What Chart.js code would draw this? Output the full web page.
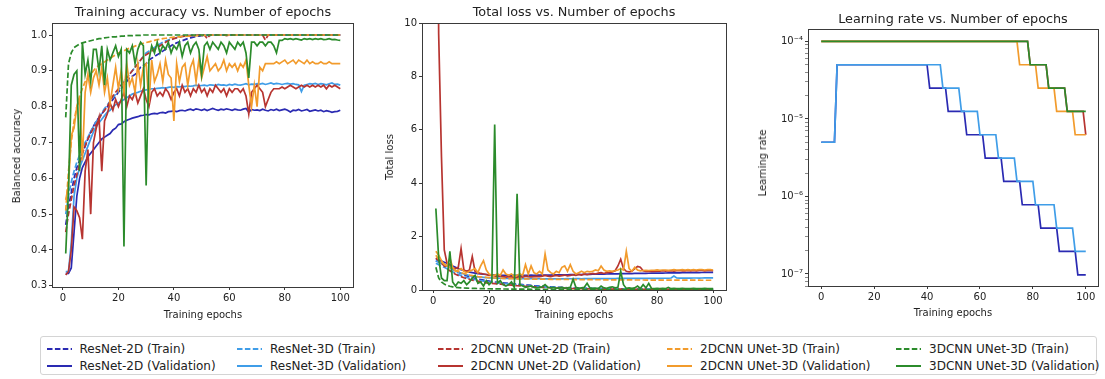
<!DOCTYPE html>
<html><head><meta charset="utf-8">
<script src="https://cdn.jsdelivr.net/npm/chart.js@4.4.1/dist/chart.umd.min.js"></script>
<style>
html,body{margin:0;padding:0;background:#fff;}
body{width:1105px;height:379px;position:relative;overflow:hidden;font-family:"DejaVu Sans",sans-serif;color:#222;}
canvas{position:absolute;top:0;}
.t{position:absolute;white-space:nowrap;transform:translate(-50%,-50%);line-height:1;}
.r{transform:translate(-50%,-50%) rotate(-90deg);}
.title{font-size:12.8px;}
.lab{font-size:10px;}
#legend{position:absolute;left:40px;top:336px;width:1057px;height:39px;border:1px solid #d4d4d4;border-radius:3px;box-sizing:border-box;}
.li{position:absolute;font-size:12px;white-space:nowrap;line-height:1;}
.li svg{position:absolute;top:-5px;}
.li span{position:absolute;left:33px;top:-6px;}
</style></head><body>
<canvas id="c1" width="370" height="330" style="left:0px"></canvas>
<canvas id="c2" width="365" height="330" style="left:370px"></canvas>
<canvas id="c3" width="365" height="330" style="left:740px"></canvas>
<div class="t title" style="left:203px;top:12px">Training accuracy vs. Number of epochs</div>
<div class="t title" style="left:574px;top:12px">Total loss vs. Number of epochs</div>
<div class="t title" style="left:953px;top:19px">Learning rate vs. Number of epochs</div>
<div class="t lab" style="left:203px;top:315px">Training epochs</div>
<div class="t lab" style="left:574px;top:315px">Training epochs</div>
<div class="t lab" style="left:953px;top:313px">Training epochs</div>
<div class="t lab r" style="left:17px;top:156px">Balanced accuracy</div>
<div class="t lab r" style="left:390px;top:157px">Total loss</div>
<div class="t lab r" style="left:763px;top:163px">Learning rate</div>
<div id="legend"></div>
<script>
// ---------- categories / names ----------
const epochs = Array.from({length: 100}, (_, i) => i + 1);
const modelNames = ["ResNet-2D", "ResNet-3D", "2DCNN UNet-2D", "2DCNN UNet-3D", "3DCNN UNet-3D"];
const modelColors = ["#2a2ab2", "#3f9de8", "#b73430", "#f29b2c", "#2b8b2b"];
const xTickValues = [0, 20, 40, 60, 80, 100];
const accTickValues = [0.3, 0.4, 0.5, 0.6, 0.7, 0.8, 0.9, 1.0];
const lossTickValues = [0, 2, 4, 6, 8, 10];
const lrMajorTicks = [1e-7, 1e-6, 1e-5, 1e-4];
const lrMajorLabels = ["10\u207B\u2077", "10\u207B\u2076", "10\u207B\u2075", "10\u207B\u2074"];

// ---------- balanced accuracy ----------
const accResNet2DTrain = [.47,.52,.56,.60,.63,.65,.67,.69,.71,.73,
.745,.76,.77,.78,.79,.80,.81,.82,.83,.84,
.85,.86,.87,.88,.885,.89,.90,.91,.915,.92,
.93,.935,.94,.945,.95,.955,.96,.965,.97,.975,
.978,.981,.984,.987,.99,.992,.994,.996,.997,.998,
.998,.999,.999,.999,1,1,1,1,1,1,
1,1,1,1,1,1,1,1,1,1, 1,1,1,1,1,1,1,1,1,1, 1,1,1,1,1,1,1,1,1,1, 1,1,1,1,1,1,1,1,1,1];
const accResNet2DVal = [.335,.335,.35,.45,.55,.60,.63,.645,.66,.67,
.68,.69,.70,.71,.715,.72,.725,.735,.74,.75,
.752,.758,.762,.765,.768,.77,.772,.775,.776,.778,
.777,.78,.781,.78,.783,.784,.782,.786,.787,.788,
.786,.789,.79,.788,.791,.793,.79,.794,.792,.79,
.793,.789,.792,.795,.792,.79,.793,.791,.794,.792,
.79,.793,.791,.79,.793,.795,.785,.792,.79,.791,
.789,.793,.79,.788,.792,.79,.793,.789,.791,.793,
.79,.785,.79,.789,.792,.788,.79,.792,.787,.789,
.791,.788,.79,.786,.789,.787,.784,.786,.787,.79];
const accResNet3DTrain = [.50,.55,.59,.62,.645,.665,.685,.70,.715,.73,
.745,.758,.77,.782,.795,.805,.815,.825,.835,.845,
.86,.87,.88,.89,.90,.91,.92,.93,.94,.95,
.955,.96,.965,.97,.975,.98,.983,.986,.989,.991,
.993,.995,.996,.997,.998,.999,.999,1,1,1,
1,1,1,1,1,1,1,1,1,1, 1,1,1,1,1,1,1,1,1,1, 1,1,1,1,1,1,1,1,1,1, 1,1,1,1,1,1,1,1,1,1, 1,1,1,1,1,1,1,1,1,1];
const accResNet3DVal = [.34,.34,.42,.55,.60,.63,.65,.67,.69,.71,
.73,.745,.755,.765,.775,.785,.79,.80,.805,.81,
.815,.82,.825,.83,.835,.838,.84,.843,.845,.847,
.848,.85,.85,.851,.852,.853,.852,.854,.855,.854,
.856,.855,.857,.856,.858,.857,.858,.86,.858,.859,
.86,.858,.861,.86,.859,.862,.86,.861,.859,.862,
.86,.863,.861,.86,.862,.864,.861,.863,.862,.864,
.863,.865,.862,.864,.866,.863,.865,.864,.862,.864,
.865,.863,.864,.862,.861,.842,.86,.862,.864,.863,
.865,.862,.864,.863,.861,.864,.866,.862,.863,.86];
const acc2D2DTrain = [.45,.50,.54,.58,.61,.64,.67,.69,.71,.725,
.74,.75,.765,.78,.79,.80,.815,.83,.84,.85,
.86,.87,.88,.89,.90,.91,.92,.93,.94,.945,
.95,.955,.96,.965,.97,.975,.98,.984,.987,.99,
.992,.994,.996,.997,.998,.998,.999,.999,1,1,
1,.99,1,1,1,1,1,1,.998,1,
1,1,1,1,1,1,1,1,1,1,
1,1,.986,1,1,1,1,1,1,1,
1,1,1,1,1,1,1,1,1,1, 1,1,1,1,1,1,1,1,1,1];
const acc2D2DVal = [.33,.34,.40,.52,.51,.49,.43,.62,.68,.50,
.70,.74,.77,.62,.76,.78,.81,.79,.82,.80,
.82,.84,.80,.83,.82,.84,.81,.83,.85,.82,
.80,.84,.85,.83,.84,.83,.85,.84,.82,.84,
.85,.83,.86,.84,.85,.83,.85,.84,.86,.84,
.85,.83,.85,.84,.86,.85,.84,.85,.83,.85,
.84,.85,.85,.84,.85,.83,.78,.84,.85,.86,
.85,.84,.80,.82,.84,.85,.85,.85,.855,.85,
.855,.86,.855,.85,.855,.86,.855,.86,.855,.86,
.855,.86,.855,.86,.85,.86,.855,.86,.855,.85];
const acc2D3DTrain = [.51,.62,.70,.76,.80,.83,.85,.87,.88,.89,
.90,.91,.915,.92,.925,.93,.935,.94,.945,.95,
.953,.956,.96,.963,.966,.969,.972,.975,.977,.979,
.981,.983,.985,.987,.988,.99,.991,.992,.993,.994,
.995,.995,.996,.996,.997,.997,.998,.998,.998,.999,
.999,.999,1,1,1,1,1,1,1,1, 1,1,1,1,1,1,1,1,1,1, 1,1,1,1,1,1,1,1,1,1, 1,1,1,1,1,1,1,1,1,1, 1,1,1,1,1,1,1,1,1,1];
const acc2D3DVal = [.54,.58,.72,.74,.80,.82,.65,.84,.89,.84,
.88,.90,.86,.91,.84,.88,.81,.86,.91,.85,
.90,.84,.92,.86,.88,.84,.92,.86,.91,.92,
.81,.93,.87,.89,.92,.87,.93,.89,.88,.76,
.92,.87,.91,.92,.86,.91,.93,.87,.93,.88,
.91,.94,.90,.91,.92,.90,.91,.93,.90,.92,
.91,.92,.90,.92,.91,.93,.86,.80,.86,.80,
.91,.90,.92,.92,.92,.92,.925,.92,.925,.93,
.92,.925,.93,.92,.93,.925,.92,.93,.92,.925,
.92,.92,.925,.92,.92,.925,.92,.92,.92,.92];
const acc3D3DTrain = [.77,.92,.95,.965,.97,.975,.978,.98,.982,.984,
.986,.988,.99,.99,.992,.993,.994,.995,.995,.996,
.997,.997,.998,.998,.998,.999,.999,.999,1,1,
1,1,1,1,1,1,1,1,1,1, 1,1,1,1,1,1,1,1,1,1, 1,1,1,1,1,1,1,1,1,1, 1,1,1,1,1,1,1,1,1,1, 1,1,1,1,1,1,1,1,1,1, 1,1,1,1,1,1,1,1,1,1, 1,1,1,1,1,1,1,1,1,1];
const acc3D3DVal = [.39,.57,.86,.89,.90,.62,.98,.89,.93,.87,
.96,.96,.90,.97,.86,.96,.93,.95,.97,.94,
.96,.41,.96,.95,.97,.92,.96,.98,.97,.58,
.93,.97,.95,.98,.95,.97,.96,.98,.95,.97,
.96,.98,.94,.97,.98,.95,.97,.98,.96,.89,
.97,.98,.96,.98,.97,.96,.98,.97,.95,.98,
.97,.96,.98,.97,.98,.95,.88,.98,.98,.97,
.98,.98,.97,.98,.98,.97,.95,.985,.985,.99,
.988,.99,.987,.99,.988,.986,.99,.988,.99,.987,
.99,.988,.99,.987,.988,.99,.987,.988,.986,.985];

// ---------- total loss ----------
const lossResNet2DTrain = [1.1,1.05,1.0,.95,.9,.84,.78,.72,.67,.62,
.58,.54,.5,.47,.44,.41,.39,.37,.35,.33,
.31,.3,.29,.28,.27,.26,.25,.24,.23,.22,
.21,.2,.19,.18,.17,.16,.155,.15,.14,.13,
.125,.12,.11,.105,.1,.095,.09,.085,.08,.075,
.07,.068,.065,.062,.06,.057,.055,.052,.05,.048,
.046,.044,.042,.04,.039,.038,.037,.036,.035,.034,
.033,.032,.031,.03,.03,.029,.028,.028,.027,.027,
.026,.026,.025,.025,.024,.024,.023,.023,.023,.022,
.022,.022,.021,.021,.021,.02,.02,.02,.02,.02];
const lossResNet2DVal = [1.15,1.12,1.08,1.04,1.0,.95,.9,.85,.8,.76,
.73,.7,.67,.65,.63,.61,.6,.59,.58,.57,
.565,.56,.555,.55,.55,.548,.55,.547,.55,.548,
.55,.552,.55,.553,.555,.553,.556,.555,.558,.56,
.562,.56,.565,.567,.566,.57,.572,.571,.575,.578,
.58,.582,.581,.585,.587,.586,.59,.592,.594,.596,
.598,.6,.602,.604,.605,.607,.61,.612,.614,.615,
.617,.619,.62,.622,.624,.625,.627,.629,.63,.632,
.634,.635,.637,.638,.64,.641,.643,.644,.646,.647,
.648,.65,.651,.652,.654,.655,.656,.658,.659,.66];
const lossResNet3DTrain = [1.0,.95,.9,.85,.8,.74,.68,.63,.58,.54,
.5,.47,.44,.41,.39,.37,.35,.33,.31,.3,
.29,.28,.27,.26,.25,.24,.23,.22,.21,.2,
.19,.18,.17,.165,.155,.15,.14,.135,.125,.12,
.11,.105,.1,.095,.09,.085,.08,.078,.074,.07,
.068,.065,.062,.06,.058,.056,.054,.052,.05,.049,
.048,.047,.046,.045,.044,.043,.042,.042,.041,.04,
.04,.039,.039,.038,.038,.037,.037,.036,.036,.036,
.035,.035,.035,.034,.034,.034,.033,.033,.033,.033,
.032,.032,.032,.032,.031,.031,.031,.031,.03,.03];
const lossResNet3DVal = [1.1,1.05,1.0,.95,.9,.84,.78,.72,.67,.63,
.6,.57,.54,.52,.5,.49,.48,.47,.46,.455,
.45,.445,.44,.44,.435,.435,.43,.43,.43,.428,
.428,.425,.425,.424,.424,.423,.422,.422,.421,.42,
.42,.421,.42,.422,.421,.42,.422,.423,.421,.422,
.423,.424,.422,.425,.424,.426,.425,.427,.426,.428,
.427,.429,.43,.428,.43,.432,.431,.433,.432,.434,
.433,.435,.434,.436,.435,.437,.436,.438,.437,.439,
.438,.44,.441,.44,.45,.52,.455,.445,.448,.446,
.448,.447,.449,.45,.448,.45,.452,.451,.453,.452];
const loss2D2DTrain = [1.2,1.1,1.0,.9,.8,.72,.65,.59,.54,.5,
.46,.43,.4,.37,.35,.33,.31,.29,.27,.26,
.25,.24,.23,.22,.21,.2,.19,.18,.17,.16,
.155,.15,.14,.135,.13,.12,.115,.11,.1,.095,
.09,.085,.08,.075,.07,.065,.062,.058,.055,.052,
.05,.048,.046,.044,.042,.04,.039,.038,.037,.036,
.035,.034,.033,.033,.032,.031,.031,.03,.03,.029,
.029,.028,.028,.028,.027,.027,.027,.026,.026,.026,
.025,.025,.025,.025,.024,.024,.024,.024,.023,.023,
.023,.023,.023,.022,.022,.022,.022,.022,.021,.021];
const loss2D2DVal = [30,9.6,5.0,1.5,1.0,.95,.82,.8,.85,1.55,
.75,.7,.75,1.25,.7,.65,.62,.6,.58,.55,
.55,.53,.5,.52,.5,.48,.5,.49,.47,.48,
.5,.48,.52,.5,.49,.5,.51,.5,.52,.55,
.52,.5,.53,.55,.52,.54,.56,.53,.55,.57,
.55,.58,.56,.6,.58,.6,.62,.6,.63,.65,
.62,.65,.66,.68,.72,.9,1.15,.8,.7,.68,
.7,.8,.88,.85,.72,.7,.7,.71,.7,.71,
.71,.72,.71,.72,.72,.71,.72,.73,.72,.72,
.73,.72,.73,.72,.73,.73,.72,.73,.73,.72];
const loss2D3DTrain = [1.3,1.15,1.05,.97,.9,.84,.78,.73,.69,.65,
.62,.59,.56,.54,.52,.5,.49,.48,.47,.46,
.455,.45,.445,.44,.435,.43,.428,.425,.423,.42,
.418,.416,.414,.412,.41,.408,.406,.405,.404,.403,
.402,.4,.399,.398,.397,.396,.395,.394,.393,.392,
.391,.39,.389,.388,.387,.386,.385,.384,.384,.383,
.382,.381,.381,.38,.379,.379,.378,.377,.377,.376,
.376,.375,.375,.374,.374,.373,.373,.372,.372,.372,
.371,.371,.37,.37,.37,.369,.369,.369,.368,.368,
.368,.367,.367,.367,.367,.366,.366,.366,.366,.365];
const loss2D3DVal = [1.45,1.3,1.1,.95,.9,1.2,.85,.7,.75,.8,
.7,.65,.7,.75,.8,.65,.9,1.1,.75,.6,
.55,.55,.6,.55,.75,.6,.55,.6,.5,.55,
.6,.55,.95,.6,.9,.65,.6,.7,.6,1.35,
.75,.65,.6,.7,.65,.85,.9,.7,.95,.7,
.6,.65,.7,.65,.7,.68,.7,.75,.72,.9,
.75,.7,.72,.7,.72,.75,.8,.75,1.45,.8,
.7,.85,.75,.72,.73,.74,.73,.74,.74,.75,
.74,.75,.75,.74,.75,.76,.75,.75,.76,.75,
.76,.75,.76,.75,.76,.76,.75,.76,.76,.75];
const loss3D3DTrain = [.85,.45,.3,.22,.17,.14,.12,.1,.09,.08,
.075,.07,.066,.062,.058,.055,.052,.05,.048,.046,
.044,.042,.041,.04,.038,.037,.036,.035,.034,.033,
.032,.031,.03,.03,.029,.028,.028,.027,.026,.026,
.025,.025,.024,.024,.023,.023,.022,.022,.022,.021,
.021,.021,.02,.02,.02,.02,.019,.019,.019,.019,
.018,.018,.018,.018,.018,.018,.018,.018,.018,.018,
.017,.017,.017,.017,.017,.017,.017,.017,.017,.017,
.016,.016,.016,.016,.016,.016,.016,.016,.016,.016,
.015,.015,.015,.015,.015,.015,.015,.015,.015,.015];
const loss3D3DVal = [3.05,1.2,.45,.35,.35,1.45,.3,.15,.3,.25,
.35,.2,.3,.45,.55,.25,.3,.15,.35,.2,
.3,6.2,.25,.35,.2,.15,.2,.3,.1,3.6,
.2,.15,.1,.12,.15,.1,.08,.1,.12,.2,
.1,.08,.1,.06,.08,.1,.07,.08,.1,.4,
.1,.06,.08,.1,.25,.08,.06,.07,.05,.15,
.08,.06,.1,.12,.08,.1,.7,.2,.06,.08,
.06,.08,.15,.06,.2,.08,.25,.06,.05,.06,
.05,.06,.05,.1,.05,.06,.05,.05,.06,.05,
.05,.05,.06,.05,.05,.05,.06,.05,.05,.05];

// ---------- learning rate (epochs where the rate changes) ----------
const lrResNet2DEpochs = [0,5,6,40,41,47,48,54,55,61,62,68,69,75,76,82,83,89,90,96,97,100];
const lrResNet2DRates = [5e-6,5e-6,5e-5,5e-5,2.5e-5,2.5e-5,1.25e-5,1.25e-5,6.25e-6,6.25e-6,3.125e-6,3.125e-6,1.5625e-6,1.5625e-6,7.8125e-7,7.8125e-7,3.90625e-7,3.90625e-7,1.953e-7,1.953e-7,9.766e-8,9.766e-8];
const lrResNet3DEpochs = [0,5,6,45,46,52,53,59,60,66,67,73,74,80,81,88,89,95,96,100];
const lrResNet3DRates = [5e-6,5e-6,5e-5,5e-5,2.5e-5,2.5e-5,1.25e-5,1.25e-5,6.25e-6,6.25e-6,3.125e-6,3.125e-6,1.5625e-6,1.5625e-6,7.8125e-7,7.8125e-7,3.90625e-7,3.90625e-7,1.953e-7,1.953e-7];
const lr2D2DEpochs = [0,78,79,85,86,92,93,99,100];
const lr2D2DRates = [1e-4,1e-4,5e-5,5e-5,2.5e-5,2.5e-5,1.25e-5,1.25e-5,6.25e-6];
const lr2D3DEpochs = [0,74,75,81,82,88,89,95,96,100];
const lr2D3DRates = [1e-4,1e-4,5e-5,5e-5,2.5e-5,2.5e-5,1.25e-5,1.25e-5,6.25e-6,6.25e-6];
const lr3D3DEpochs = [0,78,79,85,86,92,93,100];
const lr3D3DRates = [1e-4,1e-4,5e-5,5e-5,2.5e-5,2.5e-5,1.25e-5,1.25e-5];

// ---------- build ----------
const pts = (xs, ys) => ys.map((y, i) => ({x: xs[i], y}));
const accTrain = [accResNet2DTrain, accResNet3DTrain, acc2D2DTrain, acc2D3DTrain, acc3D3DTrain];
const accVal = [accResNet2DVal, accResNet3DVal, acc2D2DVal, acc2D3DVal, acc3D3DVal];
const lossTrain = [lossResNet2DTrain, lossResNet3DTrain, loss2D2DTrain, loss2D3DTrain, loss3D3DTrain];
const lossVal = [lossResNet2DVal, lossResNet3DVal, loss2D2DVal, loss2D3DVal, loss3D3DVal];
const lrEpochs = [lrResNet2DEpochs, lrResNet3DEpochs, lr2D2DEpochs, lr2D3DEpochs, lr3D3DEpochs];
const lrRates = [lrResNet2DRates, lrResNet3DRates, lr2D2DRates, lr2D3DRates, lr3D3DRates];
const DASH = [5.5, 2.4];

function trainValSets(train, val) {
  const out = [];
  modelNames.forEach((m, i) => {
    out.push({label: m + " (Train)", data: pts(epochs, train[i]), borderColor: modelColors[i], borderDash: DASH, order: 100 - (2*i)});
    out.push({label: m + " (Validation)", data: pts(epochs, val[i]), borderColor: modelColors[i], order: 100 - (2*i+1)});
  });
  return out;
}

const frame = {id: 'frame', afterDraw(chart) {
  const a = chart.chartArea, c = chart.ctx;
  c.save(); c.strokeStyle = '#3a3a3a'; c.lineWidth = 1;
  c.strokeRect(Math.round(a.left) + 0.5, Math.round(a.top) + 0.5, Math.round(a.right - a.left) - 1, Math.round(a.bottom - a.top));
  c.restore();
}};

const tickFont = {family: "DejaVu Sans", size: 10};
function xScale(min, max, h) {
  return {type: 'linear', min, max,
    afterBuildTicks: s => { s.ticks = xTickValues.map(v => ({value: v})); },
    afterFit: s => { s.height = h; },
    ticks: {font: tickFont, color: '#222', padding: 2, maxRotation: 0, autoSkip: false, callback: v => String(v)},
    grid: {drawOnChartArea: false, drawTicks: true, tickLength: 3, tickColor: '#3a3a3a', tickWidth: 1},
    border: {display: false}};
}
function makeChart(id, W, H, box, datasets, yScale, xr) {
  return new Chart(document.getElementById(id), {
    type: 'line',
    data: {datasets},
    options: {
      responsive: false, animation: false,
      layout: {padding: {top: box.top, right: W - box.right, left: 0, bottom: 0}},
      plugins: {legend: {display: false}, tooltip: {enabled: false}},
      elements: {point: {radius: 0}, line: {borderWidth: 1.7, tension: 0, fill: false}},
      scales: {
        x: xScale(xr[0], xr[1], H - box.bottom),
        y: Object.assign({afterFit: s => { s.width = box.left; }}, yScale)
      }
    },
    plugins: [frame]
  });
}
const yCommon = {grid: {drawOnChartArea: false, drawTicks: true, tickLength: 3, tickColor: '#3a3a3a'}, border: {display: false}};

makeChart('c1', 370, 330, {left: 52, top: 23, right: 354, bottom: 287}, trainValSets(accTrain, accVal),
  Object.assign({type: 'linear', min: 0.2967, max: 1.0335,
    afterBuildTicks: s => { s.ticks = accTickValues.map(v => ({value: v})); },
    ticks: {font: tickFont, color: '#222', padding: 2, autoSkip: false, callback: v => Number(v).toFixed(1)}}, yCommon),
  [-3.95, 104.95]);

makeChart('c2', 365, 330, {left: 52, top: 23, right: 357, bottom: 290}, trainValSets(lossTrain, lossVal),
  Object.assign({type: 'linear', min: 0, max: 10,
    afterBuildTicks: s => { s.ticks = lossTickValues.map(v => ({value: v})); },
    ticks: {font: tickFont, color: '#222', padding: 2, autoSkip: false, callback: v => String(v)}}, yCommon),
  [-3.95, 104.95]);

const lrTicks = [];
for (let e = -8; e <= -4; e++) for (let k = 1; k <= 9; k++) {
  const v = k * Math.pow(10, e);
  if (v >= 7.0e-8 && v <= 1.445e-4) lrTicks.push({value: v, major: k === 1});
}
const lrSets = modelNames.map((m, i) => ({label: m, data: pts(lrEpochs[i], lrRates[i]), borderColor: modelColors[i], order: 100 - i}));
makeChart('c3', 365, 330, {left: 68, top: 29, right: 359, bottom: 286}, lrSets,
  {type: 'logarithmic', min: 7.0e-8, max: 1.445e-4, bounds: 'data',
    afterBuildTicks: s => { s.ticks = lrTicks.map(t => ({value: t.value, major: t.major})); },
    ticks: {font: tickFont, color: '#222', padding: 2, autoSkip: false,
      callback: (v) => { const i = lrMajorTicks.findIndex(m => Math.abs(m - v) / m < 1e-6); return i >= 0 ? lrMajorLabels[i] : ''; }},
    grid: {drawOnChartArea: false, drawTicks: true, tickLength: 3, tickColor: '#3a3a3a',
      tickWidth: ctx => (ctx.tick && ctx.tick.major ? 1 : 0.6)},
    border: {display: false}},
  [-5, 105]);

// ---------- legend ----------
const legendCols = [46.5, 237, 437.5, 667, 896];
const legendRows = [12, 29];
const leg = document.getElementById('legend');
modelNames.forEach((m, i) => {
  ["Train", "Validation"].forEach((kind, r) => {
    const d = document.createElement('div');
    d.className = 'li';
    d.style.left = (legendCols[i] - 41) + 'px';
    d.style.top = legendRows[r] + 'px';
    const dash = kind === "Train" ? 'stroke-dasharray="5.5 2.4"' : '';
    d.innerHTML = '<svg width="26" height="10"><line x1="0" y1="5" x2="25" y2="5" stroke="' + modelColors[i] + '" stroke-width="2" ' + dash + '/></svg><span>' + m + ' (' + kind + ')</span>';
    leg.appendChild(d);
  });
});
</script>
</body></html>
